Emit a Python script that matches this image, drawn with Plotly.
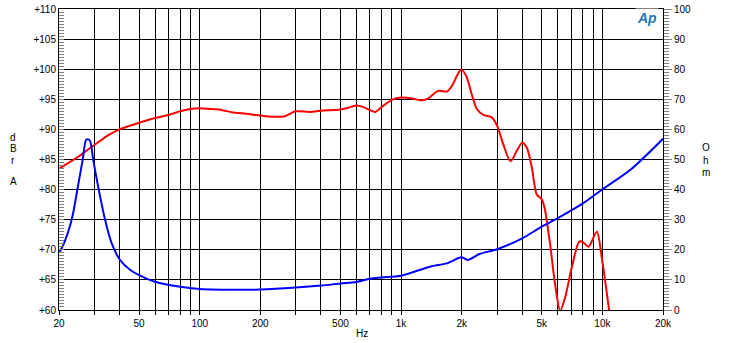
import plotly.graph_objects as go

# ---- data ----
spl_freq = [20, 22, 25, 28, 30, 35, 40, 45, 50, 60, 70, 80, 90, 100, 112, 130, 147, 170, 200,
            232, 265, 300, 353, 400, 500, 560, 600, 650, 700, 743, 800, 900, 1000, 1150, 1240,
            1340, 1530, 1690, 1810, 1900, 1990, 2105, 2245, 2380, 2565, 2820, 3000, 3220, 3500,
            3760, 4000, 4210, 4460, 4720, 5000, 5160, 5500, 5820, 6170, 6530, 7050, 7690, 8060,
            8520, 9380, 9930, 10840]
spl_db = [83.5, 84.3, 85.5, 86.7, 87.4, 89.0, 90.0, 90.6, 91.1, 91.9, 92.4, 93.0, 93.4, 93.5, 93.4,
          93.2, 92.8, 92.6, 92.3, 92.1, 92.2, 93.0, 92.9, 93.1, 93.3, 93.7, 93.95, 93.7, 93.2, 92.9,
          93.7, 94.9, 95.3, 95.1, 94.85, 95.0, 96.4, 96.3, 97.5, 99.0, 99.9, 98.9, 95.8, 93.4, 92.4,
          92.0, 90.6, 87.5, 84.7, 86.5, 87.8, 87.0, 83.7, 79.2, 78.4, 77.0, 70.9, 64.3, 59.9, 62.1,
          67.1, 71.4, 71.2, 70.5, 73.0, 68.7, 59.5]

imp_freq = [20, 21, 23.1, 24.9, 26.2, 27.3, 28.0, 28.6, 29.6, 31.3, 33.9, 36.5, 40.2, 45.2, 50, 60,
            80, 100, 158, 200, 300, 400, 500, 600, 700, 800, 1000, 1393, 1687, 2000, 2140, 2450,
            3000, 4000, 5000, 6000, 8000, 10000, 13730, 20000]
imp_ohm = [19.0, 21.6, 29.9, 41.5, 49.8, 56.6, 56.7, 56.0, 49.8, 41.0, 29.9, 22.2, 16.6, 13.3, 11.6,
           9.4, 7.7, 7.0, 6.7, 6.8, 7.45, 8.1, 8.8, 9.3, 10.4, 10.8, 11.4, 14.4, 15.5, 17.5, 16.6,
           18.6, 20.2, 23.8, 27.7, 30.5, 35.4, 40.1, 46.5, 56.9]

x_grid = [20, 30, 40, 50, 60, 70, 80, 90, 100, 200, 300, 400, 500, 600, 700, 800, 900,
          1000, 2000, 3000, 4000, 5000, 6000, 7000, 8000, 9000, 10000, 20000]
x_labels = {20: "20", 50: "50", 100: "100", 200: "200", 500: "500", 1000: "1k",
            2000: "2k", 5000: "5k", 10000: "10k", 20000: "20k"}

# ---- figure ----
W, H = 730, 343
L, R, T, B = 59, 663, 9, 310
FONT = "Liberation Sans, Arial, sans-serif"

fig = go.Figure()
fig.add_trace(go.Scatter(x=spl_freq, y=spl_db, mode="lines", yaxis="y",
                         line=dict(color="#ff0000", width=2, shape="spline", smoothing=0.8),
                         showlegend=False, hoverinfo="skip"))
fig.add_trace(go.Scatter(x=imp_freq, y=imp_ohm, mode="lines", yaxis="y2",
                         line=dict(color="#0000ff", width=2, shape="spline", smoothing=0.8),
                         showlegend=False, hoverinfo="skip"))

fig.update_layout(
    width=W, height=H,
    margin=dict(l=L, r=W - R, t=T, b=H - B, pad=0, autoexpand=False),
    paper_bgcolor="white", plot_bgcolor="white",
    font=dict(family=FONT, size=10, color="black"),
    xaxis=dict(type="log", range=[1.30103, 4.30103], automargin=False,
               tickvals=x_grid, ticktext=[x_labels.get(v, "") for v in x_grid],
               showgrid=True, gridcolor="black", gridwidth=1,
               ticks="outside", ticklen=4, tickcolor="black",
               showline=True, linecolor="black", linewidth=1, mirror=True,
               zeroline=False, tickfont=dict(size=10)),
    yaxis=dict(range=[60, 110], dtick=5, tickprefix="+", automargin=False,
               showgrid=True, gridcolor="black", gridwidth=1,
               ticks="inside", ticklen=5, tickcolor="#808080",
               minor=dict(dtick=0.5, ticks="inside", ticklen=5, tickcolor="#808080", showgrid=False),
               showline=True, linecolor="black", linewidth=1, mirror=True,
               zeroline=False, tickfont=dict(size=10)),
    yaxis2=dict(range=[0, 100], dtick=10, overlaying="y", side="right", automargin=False,
                showgrid=False, ticks="outside", ticklen=8, tickcolor="#808080",
                minor=dict(dtick=1, ticks="outside", ticklen=5, tickcolor="#808080"),
                showline=True, linecolor="black", linewidth=1,
                zeroline=False, tickfont=dict(size=10)),
)

def px_ann(text, px, py, **kw):
    fig.add_annotation(text=text, xref="paper", yref="paper",
                       x=(px - L) / (R - L), y=(B - py) / (B - T),
                       showarrow=False, xanchor="center", yanchor="middle", **kw)

px_ann("Hz", 362, 333, font=dict(size=10, family=FONT))
for ch, yy in zip(["d", "B", "r", "A"], [137, 148, 160, 181]):
    px_ann(ch, 13, yy, font=dict(size=10, family=FONT))
for ch, yy in zip(["O", "h", "m"], [147, 160, 172]):
    px_ann(ch, 706, yy, font=dict(size=10, family=FONT))
px_ann("<b><i>Ap</i></b>", 647, 18, font=dict(size=14, family=FONT, color="#1f78b8"),
       bgcolor="white")

fig.write_html("out.html", config={"displayModeBar": False},
               post_script="document.body.style.margin='0';")
